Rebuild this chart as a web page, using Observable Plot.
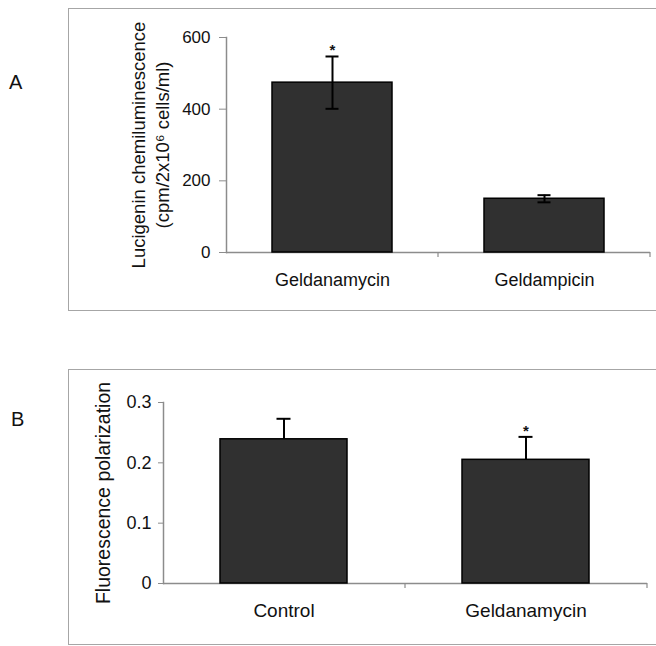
<!DOCTYPE html>
<html>
<head>
<meta charset="utf-8">
<script src="https://cdn.jsdelivr.net/npm/d3@7"></script>
<script src="https://cdn.jsdelivr.net/npm/@observablehq/plot@0.6"></script>
<style>
  body { margin: 0; background: #fff; font-family: "Liberation Sans", Arial, sans-serif; }
  #wrap { position: relative; width: 656px; height: 646px; overflow: hidden; background: #fff; }
  .box { position: absolute; border: 1.5px solid #a6a6a6; box-sizing: border-box; }
  .panel-label { position: absolute; font-size: 20px; color: #111; line-height: 1; }
  .plot { position: absolute; left: 0; }
</style>
</head>
<body>
<div id="wrap">
  <div class="box" style="left:68px; top:8px; width:620px; height:303px;"></div>
  <div class="box" style="left:68px; top:369px; width:620px; height:276px;"></div>
  <div class="panel-label" style="left:9px; top:72px;">A</div>
  <div class="panel-label" style="left:11px; top:409px;">B</div>
  <div class="plot" id="plotA" style="top:0px;"></div>
  <div class="plot" id="plotB" style="top:330px;"></div>
</div>
<script>
// ---- Panel A data ----
const catsA = ["Geldanamycin", "Geldampicin"];
const meanA = [474, 150];
const errA = [73, 10];
const starA = [true, false];
const ticksA = [0, 200, 400, 600];
const titleA1 = "Lucigenin chemiluminescence";
const titleA2 = "(cpm/2x10\u2076 cells/ml)";

// ---- Panel B data ----
const catsB = ["Control", "Geldanamycin"];
const meanB = [0.239, 0.205];
const errB = [0.034, 0.038];
const starB = [false, true];
const ticksB = [0, 0.1, 0.2, 0.3];
const titleB = "Fluorescence polarization";

const FONT = '"Liberation Sans", Arial, sans-serif';
const AXIS = "#8c8c8c";

const rowsA = catsA.map((c, i) => ({cat: c, mean: meanA[i], lo: meanA[i] - errA[i], hi: meanA[i] + errA[i], star: starA[i]}));
const rowsB = catsB.map((c, i) => ({cat: c, mean: meanB[i], lo: meanB[i], hi: meanB[i] + errB[i], star: starB[i]}));

// small ticks at category boundaries on the x-axis (Excel style)
function boundaryTicks(n, len) {
  return (index, scales, values, dim) => {
    const x0 = dim.marginLeft, x1 = dim.width - dim.marginRight, yb = dim.height - dim.marginBottom;
    const g = d3.create("svg:g").attr("stroke", AXIS).attr("stroke-width", 1.2);
    for (let k = 1; k <= n; k++) {
      const x = x0 + k * (x1 - x0) / n;
      g.append("line").attr("x1", x).attr("x2", x).attr("y1", yb).attr("y2", yb + len);
    }
    return g.node();
  };
}

const plotA = Plot.plot({
  width: 656, height: 320,
  marginLeft: 226, marginRight: 6, marginTop: 37, marginBottom: 68,
  style: {fontFamily: FONT, color: "#111", background: "transparent", overflow: "visible"},
  x: {domain: catsA, paddingInner: 0.434, paddingOuter: 0.217, label: null},
  y: {domain: [0, 600], label: null},
  marks: [
    Plot.ruleY([0], {stroke: AXIS, strokeWidth: 1.5}),
    Plot.frame({anchor: "left", stroke: AXIS, strokeWidth: 1.5}),
    boundaryTicks(catsA.length, 5),
    Plot.barY(rowsA, {x: "cat", y: "mean", fill: "#303030", stroke: "#000", strokeWidth: 1.5}),
    Plot.ruleX(rowsA, {x: "cat", y1: "lo", y2: "hi", stroke: "#000", strokeWidth: 2}),
    Plot.tickY(rowsA, {x: "cat", y: "hi", insetLeft: 53.5, insetRight: 53.5, stroke: "#000", strokeWidth: 2}),
    Plot.tickY(rowsA, {x: "cat", y: "lo", insetLeft: 53.5, insetRight: 53.5, stroke: "#000", strokeWidth: 2}),
    Plot.text(rowsA.filter(d => d.star), {x: "cat", y: "hi", text: () => "*", dy: -6, fontSize: 15, fontWeight: "bold", fill: "#111"}),
    Plot.axisY({ticks: ticksA, tickSize: 7, tickPadding: 9, stroke: AXIS, fill: "#111", fontSize: 17, label: null}),
    Plot.axisX({tickSize: 0, tickPadding: 21, fill: "#111", fontSize: 18, label: null}),
    Plot.text([titleA1], {frameAnchor: "left", textAnchor: "middle", text: d => d, rotate: -90, dx: -87, fontSize: 18.5, fill: "#111"}),
    Plot.text([titleA2], {frameAnchor: "left", textAnchor: "middle", text: d => d, rotate: -90, dx: -63, fontSize: 18.5, fill: "#111"})
  ]
});
document.getElementById("plotA").appendChild(plotA);

const plotB = Plot.plot({
  width: 656, height: 316,
  marginLeft: 163, marginRight: 9, marginTop: 72, marginBottom: 63,
  style: {fontFamily: FONT, color: "#111", background: "transparent", overflow: "visible"},
  x: {domain: catsB, paddingInner: 0.475, paddingOuter: 0.2375, label: null},
  y: {domain: [0, 0.3], label: null},
  marks: [
    Plot.ruleY([0], {stroke: AXIS, strokeWidth: 1.5}),
    Plot.frame({anchor: "left", stroke: AXIS, strokeWidth: 1.5}),
    boundaryTicks(catsB.length, 5),
    Plot.barY(rowsB, {x: "cat", y: "mean", fill: "#303030", stroke: "#000", strokeWidth: 1.5}),
    Plot.ruleX(rowsB, {x: "cat", y1: "lo", y2: "hi", stroke: "#000", strokeWidth: 2}),
    Plot.tickY(rowsB, {x: "cat", y: "hi", insetLeft: 56.5, insetRight: 56.5, stroke: "#000", strokeWidth: 2}),
    Plot.text(rowsB.filter(d => d.star), {x: "cat", y: "hi", text: () => "*", dy: -6, fontSize: 15, fontWeight: "bold", fill: "#111"}),
    Plot.axisY({ticks: ticksB, tickSize: 5, tickPadding: 7, stroke: AXIS, fill: "#111", fontSize: 18, label: null, tickFormat: d => d === 0 ? "0" : d3.format(".1f")(d)}),
    Plot.axisX({tickSize: 0, tickPadding: 20, fill: "#111", fontSize: 19, label: null}),
    Plot.text([titleB], {frameAnchor: "left", textAnchor: "middle", text: d => d, rotate: -90, dx: -60, fontSize: 19.5, fill: "#111"})
  ]
});
document.getElementById("plotB").appendChild(plotB);
</script>
</body>
</html>
